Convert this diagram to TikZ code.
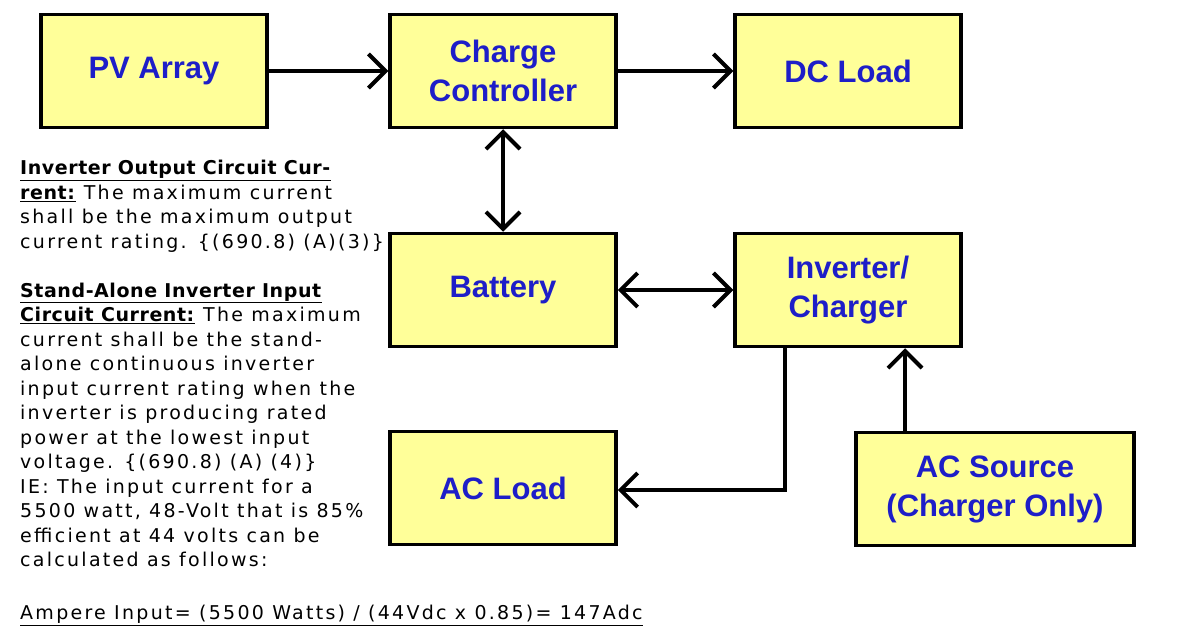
\documentclass[tikz,border=0pt]{standalone}
\usepackage{fontspec}
\setmainfont{Liberation Sans}
\newfontfamily\notefont[LetterSpace=12]{DejaVu Sans}
\newcommand{\hd}[1]{\underline{\addfontfeature{LetterSpace=3}\textbf{#1}}}
\usetikzlibrary{arrows.meta}
\definecolor{boxfill}{HTML}{FFFF99}
\definecolor{boxtext}{HTML}{1E1EC8}
\begin{document}
\begin{tikzpicture}[x=1pt,y=-1pt,
  blk/.style={draw=black,line width=3.5pt,fill=boxfill,minimum width=#1,minimum height=113pt,
    font=\fontsize{31}{39}\selectfont\bfseries,text=boxtext,align=center,inner sep=0pt},
  blk/.default=226pt,
  ar/.style={line width=4pt,-{Straight Barb[length=17pt,width=34pt,line width=4pt]}},
  dar/.style={line width=4pt,{Straight Barb[length=17pt,width=34pt,line width=4pt]}-{Straight Barb[length=17pt,width=34pt,line width=4pt]}},
  note/.style={anchor=north west,inner sep=0pt,align=left,font=\notefont\fontsize{19}{24.5}\selectfont}]
\useasboundingbox (0,0) rectangle (1183,636);
\node[blk] (pv) at (154,71) {PV Array};
\node[blk] (cc) at (503,71) {Charge\\Controller};
\node[blk] (dc) at (848,71) {DC Load};
\node[blk] (bat) at (503,290) {Battery};
\node[blk] (inv) at (848,290) {Inverter/\\Charger};
\node[blk] (acl) at (503,488) {AC Load};
\node[blk=278pt] (acs) at (995,489) {AC Source\\(Charger Only)};
\draw[ar] (pv.east) -- (cc.west);
\draw[ar] (cc.east) -- (dc.west);
\draw[dar] (cc.south) -- (bat.north);
\draw[dar] (bat.east) -- (inv.west);
\coordinate (k) at (785,490);
\draw[ar] (inv.south -| k) -- (k) -- (acl.east |- k);
\draw[ar] (acs.north -| 905,0) -- (inv.south -| 905,0);
\node[note] (t1) at (20,160) {\hd{Inverter Output Circuit Cur-}\\\hd{rent:} The maximum current\\shall be the maximum output\\current rating. \{(690.8) (A)(3)\}\\[24.5pt]
\hd{Stand-Alone Inverter Input}\\\hd{Circuit Current:} The maximum\\current shall be the stand-\\alone continuous inverter\\input current rating when the\\inverter is producing rated\\power at the lowest input\\voltage. \{(690.8) (A) (4)\}\\IE: The input current for a\\5500 watt, 48-Volt that is 85\%\\efficient at 44 volts can be\\calculated as follows:};
\node[note] (t2) at (20,605) {\underline{Ampere Input= (5500 Watts) / (44Vdc x 0.85)= 147Adc}};
\end{tikzpicture}
\end{document}
